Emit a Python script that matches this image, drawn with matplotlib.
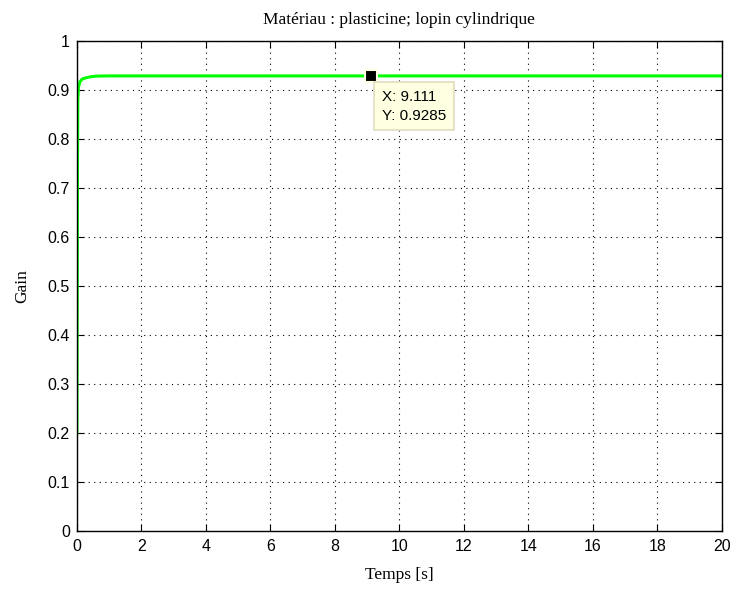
import matplotlib
matplotlib.use("Agg")
import matplotlib.pyplot as plt
import numpy as np

# gain response
temps = [0.0, 0.01, 0.02, 0.03, 0.05, 0.08, 0.1, 0.15, 0.2, 0.3, 0.45, 0.6, 0.8, 1.0, 1.5, 2.0, 4.0, 6.0, 9.111, 12.0, 15.0, 18.0, 20.0]
gain = [0.2, 0.45, 0.75, 0.88, 0.905, 0.913, 0.917, 0.921, 0.923, 0.925, 0.927, 0.928, 0.9283, 0.9285, 0.9285, 0.9285, 0.9285, 0.9285, 0.9285, 0.9285, 0.9285, 0.9285, 0.9285]
tip_x, tip_y = 9.111, 0.9285

fig = plt.figure(figsize=(7.32, 5.92), dpi=100)
ax = fig.add_axes([0.105, 0.103, 0.881, 0.828])

ax.plot(temps, gain, color="#00ff00", lw=2.2)

ax.set_xlim(0, 20)
ax.set_ylim(0, 1)
ax.set_xticks(np.arange(0, 21, 2))
ax.set_yticks(np.arange(0, 1.01, 0.1))
ax.set_xticklabels([str(v) for v in range(0, 21, 2)])
ax.set_yticklabels(["0", "0.1", "0.2", "0.3", "0.4", "0.5", "0.6", "0.7", "0.8", "0.9", "1"])
ax.tick_params(direction="in", top=True, right=True, length=5, labelsize=11.5, colors="black")
ax.tick_params(axis="x", pad=6)
ax.tick_params(axis="y", pad=5)
for lab in ax.get_xticklabels() + ax.get_yticklabels():
    lab.set_family("Liberation Sans")
ax.grid(True, color="black", linestyle=(0, (1, 4)), linewidth=0.8)
for s in ax.spines.values():
    s.set_linewidth(1.0)

ax.set_title("Matériau : plasticine; lopin cylindrique", family="Liberation Serif", fontsize=12.5, pad=12)
ax.set_xlabel("Temps [s]", family="Liberation Serif", fontsize=12.5, va="center")
ax.set_ylabel("Gain", family="Liberation Serif", fontsize=12.5, va="center")
ax.xaxis.set_label_coords(0.5, -0.09)
ax.yaxis.set_label_coords(-0.084, 0.5)

# data tip
ax.plot([tip_x], [tip_y], marker="s", ms=9, color="black", mec="#ffffe1", mew=1.5, zorder=5)
ax.annotate("X: %.3f\nY: %.4f" % (tip_x, tip_y), xy=(tip_x, tip_y), xytext=(11, -14),
            textcoords="offset pixels", ha="left", va="top", fontsize=11, family="Liberation Sans",
            linespacing=1.45,
            bbox=dict(boxstyle="square,pad=0.5", fc="#ffffe1", ec="#e0dcc0", lw=1.2), zorder=6)

fig.savefig("out.png", dpi=100)
